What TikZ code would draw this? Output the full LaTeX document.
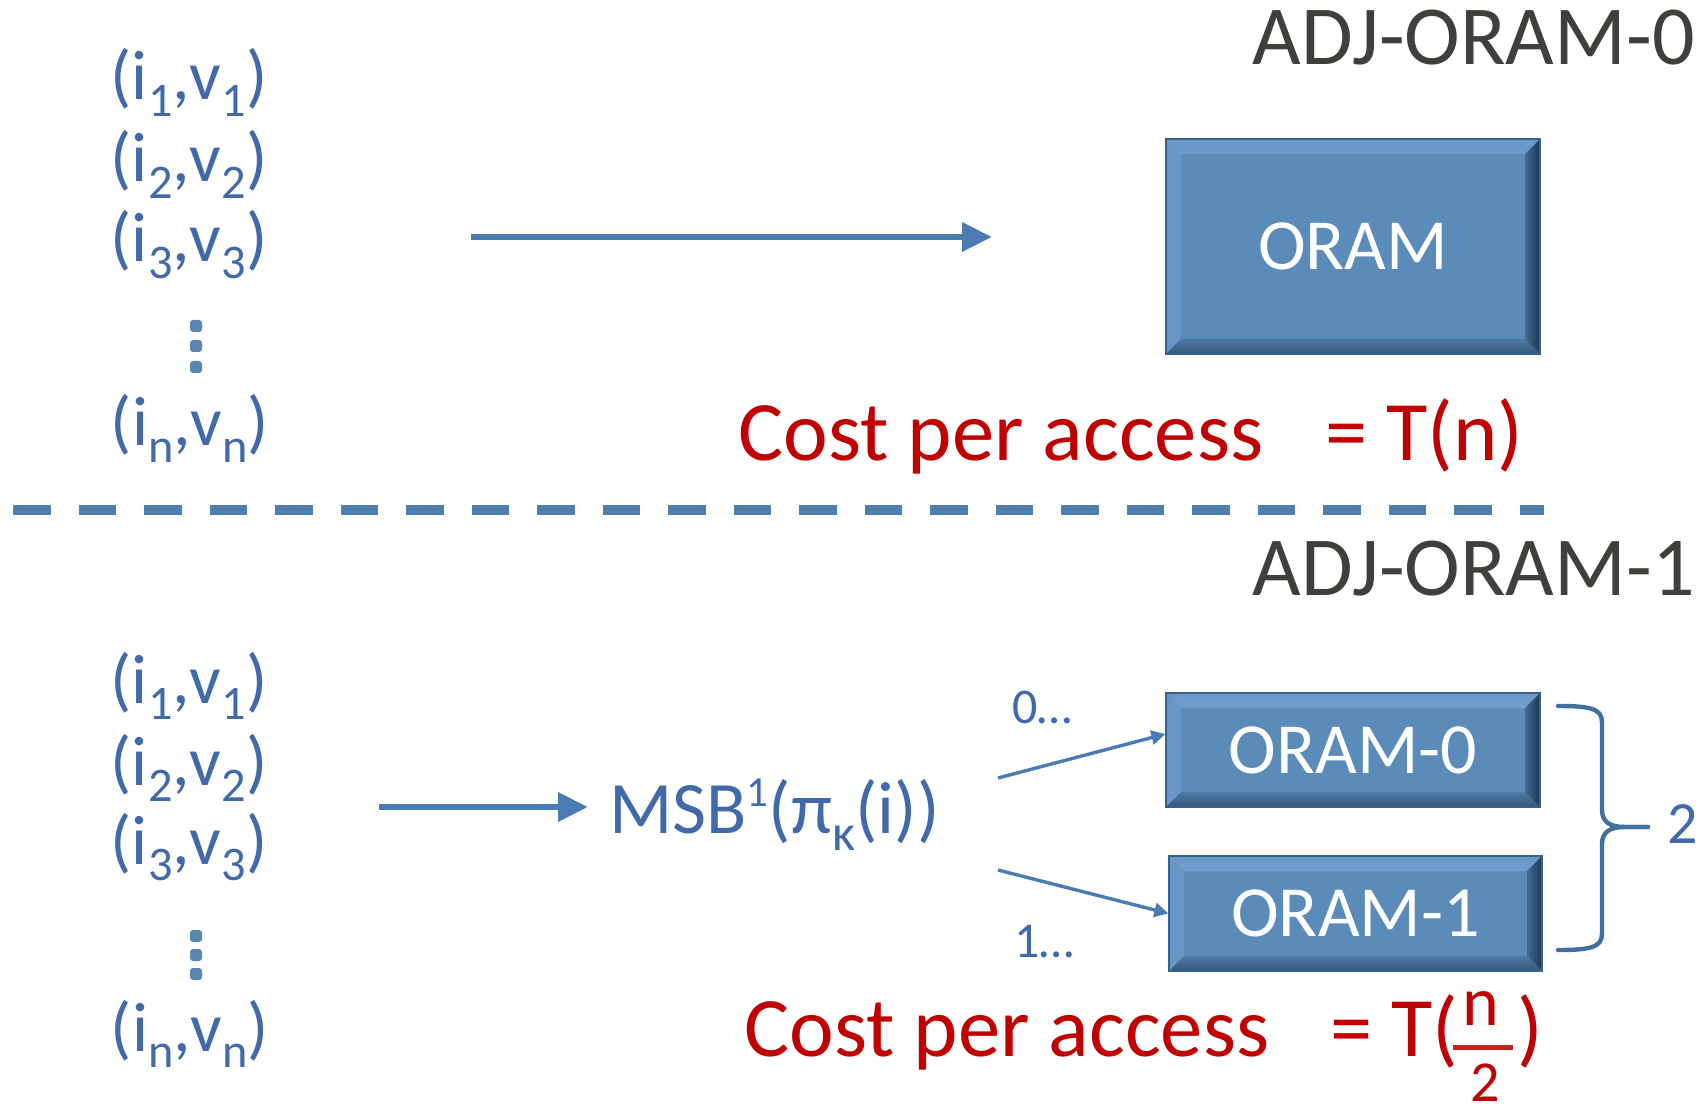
\documentclass[tikz,border=0pt]{standalone}
\usepackage{fontspec}
\setmainfont{Carlito}
\usepackage{graphicx}
\usetikzlibrary{arrows.meta}
\definecolor{tblue}{HTML}{426AAB}
\definecolor{ablue}{HTML}{4A7BB2}
\definecolor{dblue}{HTML}{4F7FAE}
\definecolor{dotblue}{HTML}{5A86B2}
\definecolor{brblue}{HTML}{41719C}
\definecolor{dgray}{HTML}{403F3C}
\definecolor{cred}{HTML}{C00000}
\definecolor{fracred}{HTML}{B8281E}
\definecolor{face}{HTML}{5B8BB8}
\definecolor{edge}{HTML}{3A6289}
\definecolor{btopo}{HTML}{6A98C8}
\definecolor{btopi}{HTML}{9CC5EE}
\definecolor{bleft}{HTML}{6896C6}
\definecolor{bboti}{HTML}{4E7BA6}
\definecolor{bboto}{HTML}{34577B}
\definecolor{brti}{HTML}{426B94}
\definecolor{brto}{HTML}{1F3650}
\newcommand\lo[1]{\raisebox{-0.24em}{\scalebox{0.69}{#1}}}
\newcommand\hi[1]{\raisebox{0.36em}{\scalebox{0.58}{#1}}}
\newcommand\bw{7.5pt}
\tikzset{
  listtxt/.style={text=tblue, font=\fontsize{35}{40}\selectfont, inner sep=0pt, anchor=base},
  titletxt/.style={text=dgray, font=\fontsize{42}{48}\selectfont, inner sep=0pt, anchor=base east},
  costtxt/.style={text=cred, font=\fontsize{42.3}{48}\selectfont, inner sep=0pt, anchor=base west},
  smalltxt/.style={text=tblue, font=\fontsize{25}{30}\selectfont, inner sep=0pt, anchor=base west},
  bigarrow/.style={draw=ablue, line width=3.3pt, -{Triangle[length=15pt,width=14pt]}},
  smallarrow/.style={draw=ablue, line width=1.7pt, -{Triangle[length=7pt,width=7pt]}},
  dotsq/.style={fill=dotblue, rounded corners=1.5pt},
  bevelbox/.style={fill=face, draw=edge, line width=0.6pt, text=white,
    font=\fontsize{36}{42}\selectfont, inner sep=0pt,
    path picture={
      \shade[top color=btopo, bottom color=btopi]
        (path picture bounding box.north west) -- (path picture bounding box.north east)
        -- ([shift={(-\bw,-\bw)}]path picture bounding box.north east)
        -- ([shift={(\bw,-\bw)}]path picture bounding box.north west) -- cycle;
      \fill[bleft]
        (path picture bounding box.north west) -- ([shift={(\bw,-\bw)}]path picture bounding box.north west)
        -- ([shift={(\bw,\bw)}]path picture bounding box.south west)
        -- (path picture bounding box.south west) -- cycle;
      \shade[top color=bboti, bottom color=bboto]
        (path picture bounding box.south west) -- ([shift={(\bw,\bw)}]path picture bounding box.south west)
        -- ([shift={(-\bw,\bw)}]path picture bounding box.south east)
        -- (path picture bounding box.south east) -- cycle;
      \shade[left color=brti, right color=brto]
        (path picture bounding box.north east) -- (path picture bounding box.south east)
        -- ([shift={(-\bw,\bw)}]path picture bounding box.south east)
        -- ([shift={(-\bw,-\bw)}]path picture bounding box.north east) -- cycle;
    }},
  brace/.style={draw=brblue, line width=2.2pt, line cap=round, line join=round},
}
\begin{document}
\begin{tikzpicture}[x=0.5pt,y=-0.5pt]
\useasboundingbox (0,0) rectangle (1706,1111);
\fill[white] (0,0) rectangle (1706,1111);

% titles
\node[titletxt] (t0) at (1695,65) {ADJ-ORAM-0};
\node[titletxt] (t1) at (1695,596) {ADJ-ORAM-1};

% top list
\node[listtxt] (a1) at (189,100) {(i\lo{1},v\lo{1})};
\node[listtxt] (a2) at (189,182) {(i\lo{2},v\lo{2})};
\node[listtxt] (a3) at (189,262) {(i\lo{3},v\lo{3})};
\node[listtxt] (an) at (190,446) {(i\lo{n},v\lo{n})};
\foreach \yy in {326,346,367} \fill[dotsq] (190,\yy-6) rectangle (202,\yy+6);

% top arrow and box
\coordinate (s0) at (471,237);
\coordinate (e0) at (992,237);
\draw[bigarrow] (s0) -- (e0);
\node[bevelbox, minimum width=187pt, minimum height=107.5pt] (oram) at (1353,246.5) {ORAM};

\node[costtxt] (c0) at (738,461) {Cost per access};
\node[costtxt] (c0r) at (1325,461) {= T(n)};

% dashed separator
\coordinate (d0) at (13,510);
\coordinate (d1) at (1544,510);
\draw[dblue, line width=4.8pt, dash pattern=on 18.75pt off 14pt] (d0) -- (d1);

% bottom list
\node[listtxt] (b1) at (189,703) {(i\lo{1},v\lo{1})};
\node[listtxt] (b2) at (189,785) {(i\lo{2},v\lo{2})};
\node[listtxt] (b3) at (189,864) {(i\lo{3},v\lo{3})};
\node[listtxt] (bn) at (190,1051) {(i\lo{n},v\lo{n})};
\foreach \yy in {936,955,974} \fill[dotsq] (190,\yy-6) rectangle (202,\yy+6);

\coordinate (s1) at (379,807);
\coordinate (e1) at (588,807);
\draw[bigarrow] (s1) -- (e1);
\node[listtxt, anchor=base west, font=\fontsize{37}{42}\selectfont] (msb) at (609,833) {MSB\hi{1}(π\lo{κ}(i))};

\node[bevelbox, minimum width=187pt, minimum height=57pt] (oram0) at (1353,750) {ORAM-0};
\node[bevelbox, minimum width=186.5pt, minimum height=57.5pt] (oram1) at (1355.5,913.5) {ORAM-1};

\coordinate (m0) at (998,778);
\coordinate (m1) at (998,870);
\draw[smallarrow] (m0) -- ([yshift=8pt]oram0.west);
\draw[smallarrow] (m1) -- (oram1.west);
\node[smalltxt] (l0) at (1012,723) {0…};
\node[smalltxt] (l1) at (1014,957) {1…};

% brace
\draw[brace] (1558,706) .. controls (1588,706) and (1602,708) .. (1602,722) -- (1602,810)
  .. controls (1602,822) and (1610,827) .. (1625,827) -- (1648,827);
\draw[brace] (1648,827) -- (1625,827) .. controls (1610,827) and (1602,832) .. (1602,844)
  -- (1602,934) .. controls (1602,948) and (1588,950) .. (1558,950);
\node[text=tblue, font=\fontsize{30}{36}\selectfont, inner sep=0pt, anchor=base west] (two) at (1667,843) {2};

% bottom cost
\node[costtxt] (c1) at (744,1056) {Cost per access};
\node[costtxt] (c1r) at (1330,1056) {= T(};
\node[text=cred, font=\fontsize{35}{40}\selectfont, inner sep=0pt, anchor=base] (fn) at (1481,1025) {n};
\coordinate (f0) at (1453,1047);
\coordinate (f1) at (1513,1047);
\draw[fracred, line width=2.5pt] (f0) -- (f1);
\node[text=cred, font=\fontsize{29}{34}\selectfont, inner sep=0pt, anchor=base] (f2) at (1485,1101) {2};
\node[costtxt] (c1p) at (1517,1056) {)};
\end{tikzpicture}
\end{document}
